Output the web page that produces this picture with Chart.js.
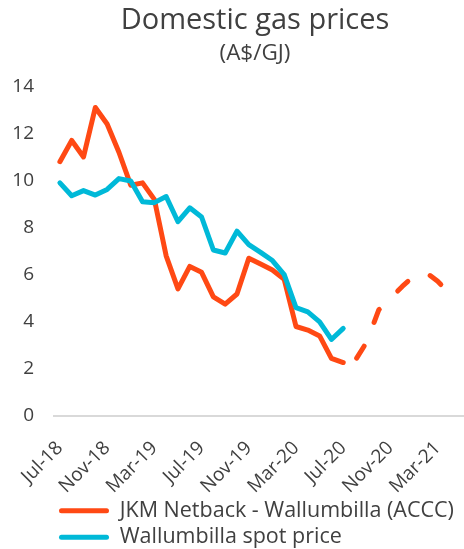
<!DOCTYPE html>
<html>
<head>
<meta charset="utf-8">
<script src="https://cdn.jsdelivr.net/npm/chart.js@4.4.1/dist/chart.umd.min.js"></script>
<style>
  html, body { margin: 0; padding: 0; background: #fff; overflow: hidden; }
  #wrap { width: 510px; height: 558px; }
</style>
</head>
<body>
<div id="wrap"><canvas id="gasChart" width="510" height="558"></canvas></div>
<script>
// monthly categories, Jul-18 to Jun-21
const months = ['Jul-18','Aug-18','Sep-18','Oct-18','Nov-18','Dec-18',
  'Jan-19','Feb-19','Mar-19','Apr-19','May-19','Jun-19','Jul-19','Aug-19','Sep-19','Oct-19','Nov-19','Dec-19',
  'Jan-20','Feb-20','Mar-20','Apr-20','May-20','Jun-20','Jul-20','Aug-20','Sep-20','Oct-20','Nov-20','Dec-20',
  'Jan-21','Feb-21','Mar-21','Apr-21','May-21','Jun-21'];

// JKM netback (ACCC) - actuals
const jkmActual = [10.8, 11.7, 11.0, 13.1, 12.4, 11.2, 9.8, 9.9, 9.2, 6.8, 5.4, 6.35,
  6.1, 5.06, 4.75, 5.18, 6.7, 6.45, 6.2, 5.8, 3.8, 3.65, 3.4, 2.45, 2.27,
  null, null, null, null, null, null, null, null, null, null, null];

// JKM netback (ACCC) - forward (dashed)
const jkmForward = [null, null, null, null, null, null, null, null, null, null, null, null,
  null, null, null, null, null, null, null, null, null, null, null, null, 2.27,
  2.35, 3.15, 4.5, 5.0, 5.5, 5.95, 6.1, 5.72, 5.2, 4.98, null];

// Wallumbilla spot price
const spotPrice = [9.9, 9.35, 9.57, 9.38, 9.62, 10.08, 9.98, 9.1, 9.06, 9.32, 8.25, 8.84,
  8.45, 7.05, 6.92, 7.85, 7.28, 6.95, 6.6, 6.0, 4.6, 4.42, 4.0, 3.25, 3.72,
  null, null, null, null, null, null, null, null, null, null, null];

const orange = '#FF4914';
const cyan = '#00B9D8';
const textColor = '#404040';
const fontFamily = '"Open Sans", sans-serif';

const lineStyle = {
  borderWidth: 5,
  pointRadius: 0,
  tension: 0,
  borderJoinStyle: 'round',
  borderCapStyle: 'round',
  spanGaps: false
};

const ctx = document.getElementById('gasChart').getContext('2d');
const chart = new Chart(ctx, {
  type: 'line',
  data: {
    labels: months,
    datasets: [
      Object.assign({ label: 'JKM Netback - Wallumbilla (ACCC)', data: jkmActual,
        borderColor: orange, backgroundColor: orange, order: 1 }, lineStyle),
      Object.assign({ label: 'Wallumbilla spot price', data: spotPrice,
        borderColor: cyan, backgroundColor: cyan, order: 0 }, lineStyle),
      Object.assign({ label: 'forward', data: jkmForward,
        borderColor: orange, backgroundColor: orange, order: 1,
        borderDash: [14, 26], borderDashOffset: 25 }, lineStyle)
    ]
  },
  options: {
    responsive: false,
    devicePixelRatio: 1,
    animation: false,
    layout: { padding: { left: 13, right: 13, top: 0, bottom: 0 } },
    plugins: {
      title: {
        display: true,
        text: 'Domestic gas prices',
        color: textColor,
        font: { family: fontFamily, size: 29, weight: 'normal' },
        padding: { top: 3, bottom: 2 }
      },
      subtitle: {
        display: true,
        text: '(A$/GJ)',
        color: textColor,
        font: { family: fontFamily, size: 22.5, weight: 'normal' },
        padding: { top: 0, bottom: 19.5 }
      },
      legend: {
        position: 'bottom',
        align: 'start',
        fullSize: false,
        labels: {
          color: textColor,
          font: { family: fontFamily, size: 21.5, lineHeight: 1 },
          boxWidth: 50,
          boxHeight: 5,
          useBorderRadius: true,
          borderRadius: 2.5,
          padding: 5,
          filter: (item) => item.text !== 'forward',
          sort: (a, b) => a.datasetIndex - b.datasetIndex,
          generateLabels: (chart) => Chart.defaults.plugins.legend.labels.generateLabels(chart)
            .map((item) => Object.assign(item, { lineWidth: 0 }))
        }
      },
      tooltip: { enabled: false }
    },
    scales: {
      x: {
        type: 'category',
        offset: true,
        grid: { display: false, drawTicks: false },
        border: { display: true, color: '#D9D9D9', width: 2 },
        afterFit: (scale) => {
          scale.paddingLeft = 0;
          scale.paddingRight = 31;
          scale.height = 79;
        },
        ticks: {
          autoSkip: false,
          maxRotation: 45,
          minRotation: 45,
          padding: 21,
          color: textColor,
          font: { family: fontFamily, size: 19 },
          callback: function (value, index) {
            return index % 4 === 0 ? this.getLabelForValue(value) : '';
          }
        }
      },
      y: {
        min: 0,
        max: 14,
        grid: { display: false, drawTicks: false },
        border: { display: false },
        afterFit: (scale) => {
          scale.width = 41;
        },
        ticks: {
          stepSize: 2,
          padding: 20,
          color: textColor,
          font: { family: fontFamily, size: 19 }
        }
      }
    }
  }
});
</script>
</body>
</html>
